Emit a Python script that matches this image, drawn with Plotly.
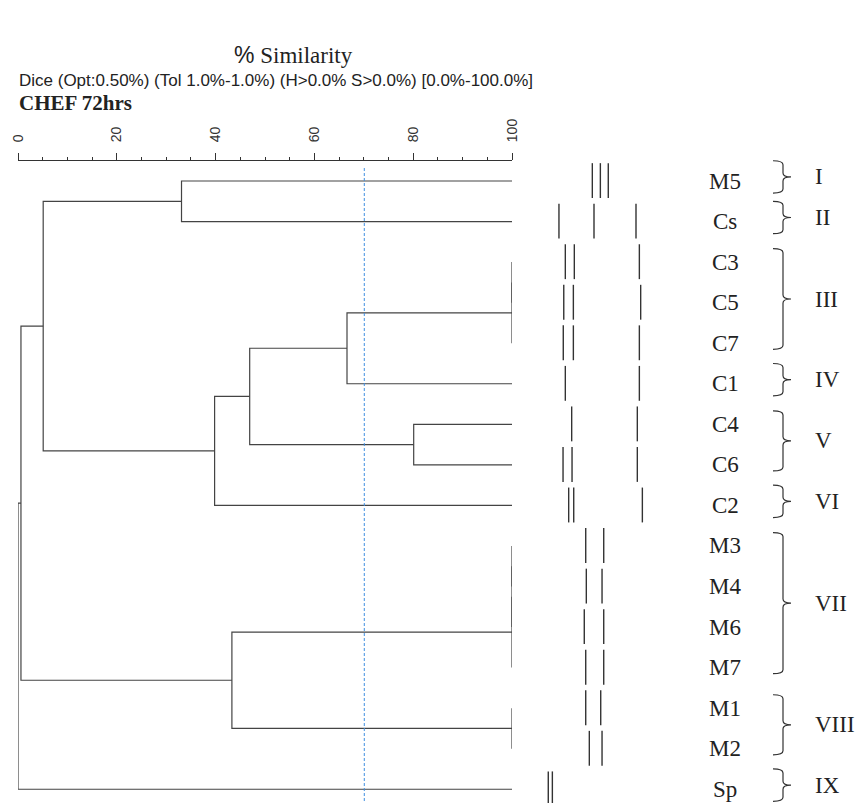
import plotly.graph_objects as go

W, H = 861, 803

# ---------------- data ----------------
leaves = ["M5", "Cs", "C3", "C5", "C7", "C1", "C4", "C6", "C2",
          "M3", "M4", "M6", "M7", "M1", "M2", "Sp"]

merge_left = ["C3", "N1", "M3", "N3", "N4", "M1", "C4", "N2", "N8", "N9",
              "M5", "N5", "N11", "N13", "N14"]
merge_right = ["C5", "C7", "M4", "M6", "M7", "M2", "C6", "C1", "N7", "C2",
               "Cs", "N6", "N10", "N12", "Sp"]
merge_sim = [100, 100, 100, 100, 100, 100, 80.1, 66.6, 46.9, 39.8,
             33.1, 43.3, 5.1, 0.6, 0.0]

cutoff = 70.1

# band positions per lane (relative migration, 0-100)
bands = {
    "M5": [43.6, 50.3, 56.9],
    "Cs": [15.8, 45.0, 80.0],
    "C3": [21.1, 28.6, 82.8],
    "C5": [19.8, 27.8, 83.9],
    "C7": [19.4, 27.8, 82.8],
    "C1": [21.1, 82.8],
    "C4": [26.4, 81.1],
    "C6": [19.2, 26.7, 81.1],
    "C2": [23.9, 28.1, 85.3],
    "M3": [38.1, 53.1],
    "M4": [38.6, 51.7],
    "M6": [36.9, 53.1],
    "M7": [38.1, 53.1],
    "M1": [38.1, 50.6],
    "M2": [41.1, 51.7],
    "Sp": [6.9, 10.3],
}

group_names = ["I", "II", "III", "IV", "V", "VI", "VII", "VIII", "IX"]
group_first = ["M5", "Cs", "C3", "C1", "C4", "C2", "M3", "M1", "Sp"]
group_last = ["M5", "Cs", "C7", "C1", "C6", "C2", "M7", "M2", "Sp"]

x_ticks = [0, 20, 40, 60, 80, 100]

# ---------------- geometry helpers ----------------
ROW0, ROWSTEP = 181.0, 40.55
def px(x):
    return x / W

def py(y):
    return 1 - y / H

row_of = {name: i for i, name in enumerate(leaves)}

# ---------------- dendrogram lines ----------------
pos = {name: (100.0, float(i)) for i, name in enumerate(leaves)}
lx, ly = [], []
for k, (a, b, s) in enumerate(zip(merge_left, merge_right, merge_sim)):
    xa, ya = pos[a]
    xb, yb = pos[b]
    lx += [xa, s, s, xb, None]
    ly += [ya, ya, yb, yb, None]
    pos["N%d" % (k + 1)] = (s, (ya + yb) / 2)

fig = go.Figure()
fig.add_trace(go.Scatter(x=lx, y=ly, mode="lines",
                         line=dict(color="#444444", width=1.2),
                         hoverinfo="skip", showlegend=False))

# cutoff line
fig.add_trace(go.Scatter(x=[cutoff, cutoff], y=[-0.32, len(leaves) - 0.6],
                         mode="lines",
                         line=dict(color="#3f8ee0", width=1, dash="3px,2px"),
                         hoverinfo="skip", showlegend=False))

# gel bands
bx, by = [], []
for name in leaves:
    r = row_of[name]
    for b in bands[name]:
        bx += [b, b, None]
        by += [r - 0.44, r + 0.42, None]
fig.add_trace(go.Scatter(x=bx, y=by, mode="lines", xaxis="x2", yaxis="y",
                         line=dict(color="#333333", width=1.4),
                         hoverinfo="skip", showlegend=False))

# ---------------- labels ----------------
ann = []
for name in leaves:
    ann.append(dict(x=px(725), xref="paper", y=row_of[name], yref="y",
                    text=name, showarrow=False, xanchor="center", yanchor="middle",
                    font=dict(family="Liberation Serif", size=23, color="#222")))

shapes = []
xl, xv, xt = px(773), px(783), px(791)
for g, f, l in zip(group_names, group_first, group_last):
    r1, r2 = row_of[f], row_of[l]
    if r1 == r2:
        top, bot = r1 - 0.5, r2 + 0.3
    else:
        top, bot = r1 - 0.33, r2 + 0.15
    mid = (top + bot) / 2
    rr = 0.1
    path = (f"M {xl},{top} Q {xv},{top} {xv},{top + rr} L {xv},{mid - rr} "
            f"Q {xv},{mid} {xt},{mid} Q {xv},{mid} {xv},{mid + rr} "
            f"L {xv},{bot - rr} Q {xv},{bot} {xl},{bot}")
    shapes.append(dict(type="path", path=path, xref="paper", yref="y",
                       line=dict(color="#333", width=1.2)))
    ann.append(dict(x=px(813), xref="paper", y=mid, yref="y", text=g,
                    showarrow=False, xanchor="left", yanchor="middle",
                    font=dict(family="Liberation Serif", size=23, color="#222")))

ann.append(dict(x=px(293), y=py(55), xref="paper", yref="paper",
                text="<span style='font-family:Liberation Sans'>%</span> Similarity",
                showarrow=False, xanchor="center", yanchor="middle",
                font=dict(family="Liberation Serif", size=23, color="#222")))
ann.append(dict(x=px(17), y=py(81), xref="paper", yref="paper",
                text="Dice (Opt:0.50%) (Tol 1.0%-1.0%) (H>0.0% S>0.0%) [0.0%-100.0%]",
                showarrow=False, xanchor="left", yanchor="middle",
                font=dict(family="Liberation Sans", size=17, color="#222")))
ann.append(dict(x=px(17), y=py(103), xref="paper", yref="paper",
                text="<b>CHEF 72hrs</b>",
                showarrow=False, xanchor="left", yanchor="middle",
                font=dict(family="Liberation Serif", size=21, color="#222")))

fig.update_layout(
    template="none",
    width=W, height=H,
    margin=dict(l=0, r=0, t=0, b=0, pad=0),
    paper_bgcolor="white", plot_bgcolor="white",
    xaxis=dict(domain=[px(18), px(512)], range=[0, 100], side="top",
               anchor="free", position=py(160), automargin=False,
               showline=True, linecolor="#333", linewidth=1,
               ticks="outside", ticklen=7, tickwidth=1, tickcolor="#333",
               tickmode="array", tickvals=x_ticks, ticktext=[str(t) for t in x_ticks],
               tickangle=-90, ticklabelstandoff=8,
               tickfont=dict(family="Liberation Sans", size=14, color="#333"),
               minor=dict(ticks="outside", dtick=5, tick0=0, ticklen=3,
                          tickcolor="#333", showgrid=False),
               showgrid=False, zeroline=False, fixedrange=True),
    xaxis2=dict(domain=[px(540), px(660)], range=[0, 100], anchor="y",
                visible=False, fixedrange=True, automargin=False),
    yaxis=dict(domain=[0, 1],
               range=[(H - ROW0) / ROWSTEP, -ROW0 / ROWSTEP],
               visible=False, fixedrange=True, automargin=False),
    annotations=ann,
    shapes=shapes,
    showlegend=False,
)

fig.write_html(
    "out.html",
    config={"displayModeBar": False},
    post_script="document.body.style.margin='0';document.body.style.padding='0';"
                "document.documentElement.style.overflow='hidden';",
)
